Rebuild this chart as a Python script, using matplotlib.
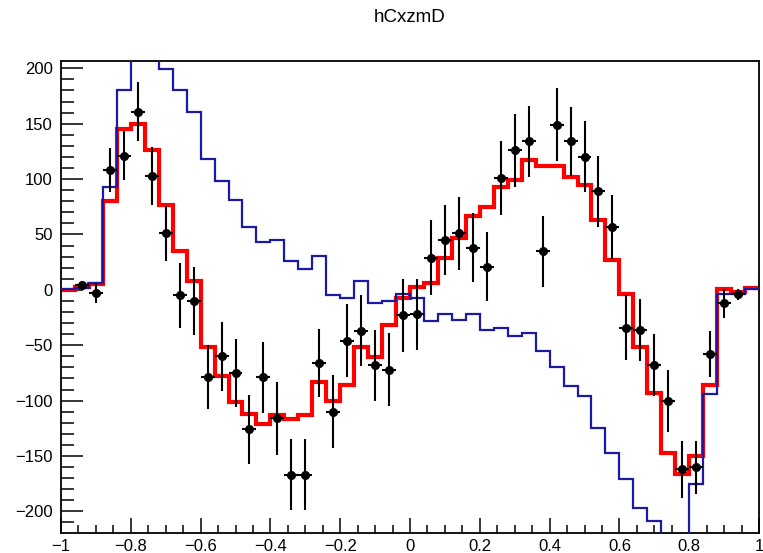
import numpy as np
import matplotlib
matplotlib.use("Agg")
import matplotlib.pyplot as plt
from matplotlib.ticker import MultipleLocator, FixedLocator

plt.rcParams['font.family'] = ['Liberation Sans', 'DejaVu Sans']

# ---- data ----
title = "hCxzmD"
nbins, xmin, xmax = 50, -1.0, 1.0

fit_red = [0, 3, 5, 80, 145, 150, 126, 77, 35, 8,
           -52, -78, -101, -112, -121, -113, -117, -113, -83, -100,
           -86, -52, -61, -32, -7, 3, 6, 29, 47, 67,
           75, 93, 99, 117, 112, 112, 102, 95, 63, 27,
           -4, -52, -93, -147, -166, -150, -86, 1, -2, 2]

model_blue = [1, 2, 6, 93, 180, 235, 225, 199, 180, 161,
              118, 98, 81, 57, 43, 45, 26, 19, 31, -5,
              -7, 8, -12, -10, -4, -7, -28, -22, -27, -22,
              -36, -34, -42, -39, -55, -70, -87, -96, -125, -147,
              -171, -197, -209, -240, -240, -175, -94, -4, -4, 1]

data_vals = [np.nan, 4, -3, 108, 121, 161, 103, 51, -5, -10,
             -79, -60, -75, -126, -79, -116, -167, -167, -66, -110,
             -46, -37, -68, -72, -23, -22, 29, 45, 51, 38,
             21, 101, 126, 134, 35, 149, 134, 120, 89, 57,
             -34, -36, -68, -100, -162, -160, -58, -12, -4, np.nan]

data_errs = [np.nan, 4, 9, 20, 22, 27, 26, 25, 29, 31,
             29, 31, 31, 31, 32, 33, 32, 32, 31, 33,
             33, 32, 32, 33, 33, 32, 34, 32, 33, 31,
             31, 33, 33, 32, 32, 33, 31, 32, 32, 29,
             29, 28, 28, 28, 26, 24, 21, 13, 5, np.nan]

xticks = [-1, -0.8, -0.6, -0.4, -0.2, 0, 0.2, 0.4, 0.6, 0.8, 1]
xticklabels = ["\u22121", "\u22120.8", "\u22120.6", "\u22120.4", "\u22120.2", "0",
               "0.2", "0.4", "0.6", "0.8", "1"]
yticks = [-200, -150, -100, -50, 0, 50, 100, 150, 200]
yticklabels = ["\u2212200", "\u2212150", "\u2212100", "\u221250", "0", "50", "100", "150", "200"]

# ---- figure ----
W, H = 763, 553
fig = plt.figure(figsize=(W / 100, H / 100), dpi=100)
ax = fig.add_axes([61 / W, 1 - 533 / H, (759 - 61) / W, (533 - 61) / H])

edges = np.linspace(xmin, xmax, nbins + 1)
centers = 0.5 * (edges[:-1] + edges[1:])
half = 0.5 * (edges[1] - edges[0])

ax.stairs(fit_red, edges, color='#ff0000', linewidth=3.0, zorder=2)
ax.stairs(model_blue, edges, color='#1a1aa6', linewidth=1.6, zorder=3)

dv = np.array(data_vals, dtype=float)
de = np.array(data_errs, dtype=float)
ax.errorbar(centers, dv, yerr=de, xerr=half, fmt='o', color='black',
            markersize=5.5, elinewidth=1.5, capsize=0, zorder=4)

ax.set_xlim(xmin, xmax)
ax.set_ylim(-219.5, 206.6)

ax.xaxis.set_major_locator(FixedLocator(xticks))
ax.set_xticklabels(xticklabels)
ax.xaxis.set_minor_locator(MultipleLocator(0.05))
ax.yaxis.set_major_locator(FixedLocator(yticks))
ax.set_yticklabels(yticklabels)
ax.yaxis.set_minor_locator(MultipleLocator(10))

ax.tick_params(axis='both', which='both', direction='in', top=False, right=False,
               width=1.1, colors='black', labelsize=12)
ax.tick_params(axis='y', which='major', length=16, pad=6)
ax.tick_params(axis='y', which='minor', length=9)
ax.tick_params(axis='x', which='major', length=11, pad=4)
ax.tick_params(axis='x', which='minor', length=6)

for s in ax.spines.values():
    s.set_linewidth(1.3)
    s.set_color('black')

fig.text((61 + 759) / 2 / W, 1 - 18 / H, title, ha='center', va='center',
         fontsize=13.5)

fig.savefig("out.png", dpi=100)
